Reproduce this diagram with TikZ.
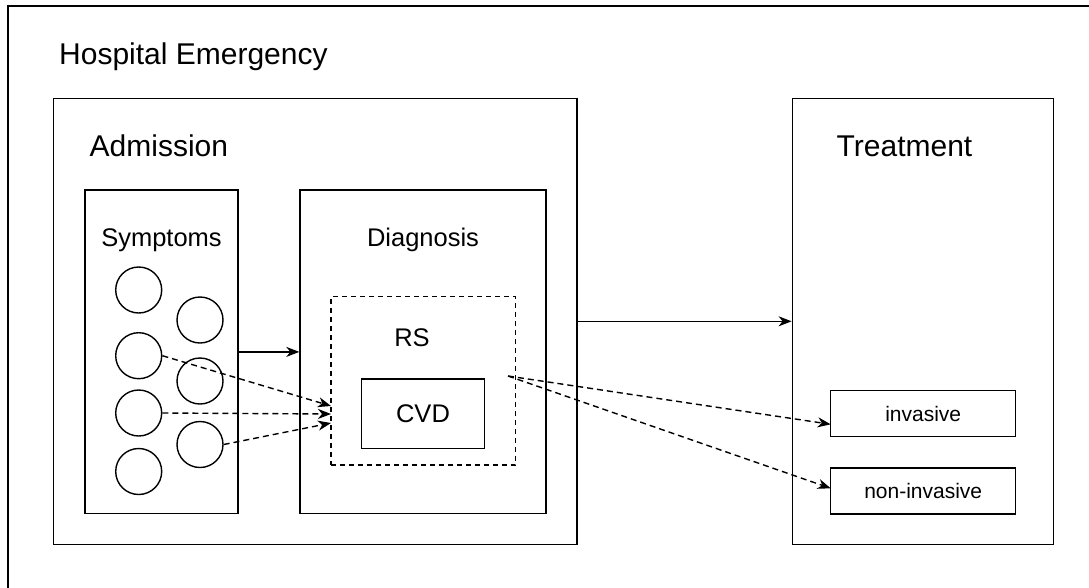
\documentclass[tikz,border=0pt]{standalone}
\usepackage{fontspec}
\setmainfont{Liberation Sans}
\usetikzlibrary{arrows.meta}

\tikzset{
  box/.style={draw, line width=1.4pt, inner sep=0pt, minimum width=#1},
  dashedbox/.style={draw, line width=1.4pt, inner sep=0pt, dash pattern=on 5pt off 4pt},
  symptom/.style={draw, circle, line width=1.4pt, minimum size=46pt, inner sep=0pt},
  bigtitle/.style={inner sep=0pt, anchor=base west, font=\fontsize{30}{36}\selectfont},
  midtitle/.style={inner sep=0pt, anchor=base, font=\fontsize{25.5}{30}\selectfont},
  smalltext/.style={font=\fontsize{21}{25}\selectfont},
  flow/.style={line width=1.4pt, -{Stealth[length=13pt, width=10pt, inset=4pt]}},
  dflow/.style={flow, dash pattern=on 6pt off 4pt},
}

\begin{document}
\begin{tikzpicture}[x=1pt, y=-1pt]
  \useasboundingbox (0,0) rectangle (1089,587);
  \clip (0,0) rectangle (1089,587);

  % outer frame
  \node[box=1092pt, minimum height=594pt] (frame) at (554,303) {};
  \node[bigtitle] (hosp) at (59,64) {Hospital Emergency};

  % admission and treatment
  \node[box=523.3pt, minimum height=446pt] (admission) at (315.3,321.3) {};
  \node[bigtitle] (admtitle) at (89.5,156) {Admission};
  \node[box=261.4pt, minimum height=446pt] (treatment) at (923,321.3) {};
  \node[bigtitle] (trttitle) at (836.5,156) {Treatment};

  % symptoms
  \node[box=153pt, minimum height=323.7pt] (symptoms) at (161.5,351.9) {};
  \node[midtitle] (symtitle) at (161.5,246) {Symptoms};
  \node[symptom] (c1) at (138.7,290) {};
  \node[symptom] (c2) at (138.7,355.7) {};
  \node[symptom] (c3) at (138.7,413) {};
  \node[symptom] (c4) at (138.7,471.5) {};
  \node[symptom] (r1) at (200,320) {};
  \node[symptom] (r2) at (200,381) {};
  \node[symptom] (r3) at (200,444.5) {};

  % diagnosis
  \node[box=246pt, minimum height=323.7pt] (diagnosis) at (423,351.9) {};
  \node[midtitle] (diatitle) at (423,246) {Diagnosis};
  \node[dashedbox, minimum width=184.7pt, minimum height=168.3pt] (rs) at (423.3,380.9) {};
  \node[midtitle] (rstitle) at (412,346.7) {RS};
  \node[box=123.4pt, minimum height=69.3pt, font=\fontsize{25.5}{30}\selectfont] (cvd) at (423,413.7) {CVD};

  % treatment options
  \node[box=185pt, minimum height=46pt, smalltext] (inv) at (923.2,413.7) {invasive};
  \node[box=185pt, minimum height=46pt, smalltext] (noninv) at (923.2,490.9) {non-invasive};

  % connector end points
  \coordinate (rsin1) at (331,406);
  \coordinate (rsin2) at (331,414);
  \coordinate (rsin3) at (331,423);
  \coordinate (rsout) at (508,376);
  \coordinate (invin) at (830.7,424.3);
  \coordinate (noninvin) at (830.7,488.3);

  % connectors
  \draw[flow] (symptoms.east) -- (diagnosis.west);
  \draw[flow] (admission.east) -- (treatment.west);
  \draw[dflow] (c2.east) -- (rsin1);
  \draw[dflow] (c3.east) -- (rsin2);
  \draw[dflow] (r3.east) -- (rsin3);
  \draw[dflow] (rsout) -- (invin);
  \draw[dflow] (rsout) -- (noninvin);
\end{tikzpicture}
\end{document}
